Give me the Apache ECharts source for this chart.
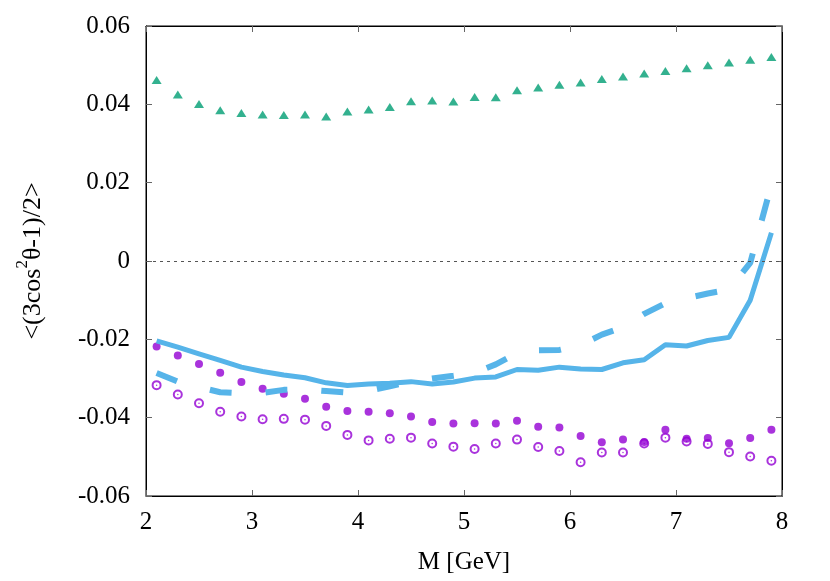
<!DOCTYPE html>
<html>
<head>
<meta charset="utf-8">
<script src="https://cdn.jsdelivr.net/npm/echarts@6/dist/echarts.min.js"></script>
<style>
  html, body { margin: 0; padding: 0; background: #fff; }
  #chart { width: 830px; height: 581px; }
</style>
</head>
<body>
<div id="chart"></div>
<script>
// mass bins (GeV)
var masses = [2.1, 2.3, 2.5, 2.7, 2.9, 3.1, 3.3, 3.5, 3.7, 3.9, 4.1, 4.3, 4.5, 4.7, 4.9,
              5.1, 5.3, 5.5, 5.7, 5.9, 6.1, 6.3, 6.5, 6.7, 6.9, 7.1, 7.3, 7.5, 7.7, 7.9];

// green triangles
var triangles = [0.0462, 0.0425, 0.0401, 0.0385, 0.0378, 0.0374, 0.0373, 0.0374, 0.0369, 0.0382,
                 0.0387, 0.0393, 0.0408, 0.0410, 0.0407, 0.0419, 0.0418, 0.0436, 0.0443, 0.0450,
                 0.0456, 0.0465, 0.0471, 0.0479, 0.0485, 0.0492, 0.0500, 0.0507, 0.0514, 0.0521];

// purple filled dots
var filledDots = [-0.0218, -0.0241, -0.0263, -0.0285, -0.0309, -0.0326, -0.0339, -0.0352, -0.0372, -0.0383,
                  -0.0385, -0.0389, -0.0397, -0.0411, -0.0415, -0.0414, -0.0415, -0.0408, -0.0423, -0.0425,
                  -0.0447, -0.0463, -0.0456, -0.0462, -0.0431, -0.0454, -0.0452, -0.0465, -0.0452, -0.0431];

// purple open circles
var openDots = [-0.0317, -0.0341, -0.0363, -0.0385, -0.0397, -0.0404, -0.0403, -0.0405, -0.0421, -0.0444,
                -0.0458, -0.0454, -0.0451, -0.0466, -0.0474, -0.0480, -0.0466, -0.0456, -0.0475, -0.0485,
                -0.0514, -0.0489, -0.0489, -0.0466, -0.0451, -0.0461, -0.0467, -0.0488, -0.0499, -0.0510];

// blue solid curve
var solidCurve = [-0.0204, -0.0220, -0.0237, -0.0254, -0.0271, -0.0282, -0.0291, -0.0298, -0.0311, -0.0318,
                  -0.0314, -0.0312, -0.0308, -0.0314, -0.0309, -0.0299, -0.0296, -0.0277, -0.0279, -0.0271,
                  -0.0276, -0.0277, -0.0260, -0.0252, -0.0214, -0.0217, -0.0203, -0.0195, -0.0100, 0.0072];

// blue dashed curve
var dashedCurve = [-0.0286, -0.0308, -0.0322, -0.0335, -0.0338, -0.0337, -0.0329, -0.0328, -0.0332, -0.0336,
                   -0.0331, -0.0320, -0.0308, -0.0300, -0.0293, -0.0285, -0.0264, -0.0235, -0.0228, -0.0227,
                   -0.0215, -0.0188, -0.0169, -0.0135, -0.0108, -0.0095, -0.0083, -0.0073, -0.0005, 0.0195];

var FONT = '"Liberation Serif", "DejaVu Serif", serif';
var BLUE = '#56B4E9';
var PURPLE = '#9400D3';
var GREEN = '#009E73';

function pairs(ys) {
    var out = [];
    for (var i = 0; i < masses.length; i++) {
        out.push([masses[i], ys[i]]);
    }
    return out;
}

function yLabel(v) {
    if (Math.abs(v) < 1e-9) return '0';
    return v.toFixed(2);
}

var chart = echarts.init(document.getElementById('chart'));
var option = {
    animation: false,
    backgroundColor: '#fff',
    grid: {
        left: 146,
        right: 48,
        top: 26,
        bottom: 85,
        show: true,
        borderColor: '#000',
        borderWidth: 1
    },
    xAxis: [{
        type: 'value',
        min: 2,
        max: 8,
        interval: 1,
        name: 'M [GeV]',
        nameLocation: 'middle',
        nameGap: 54,
        nameTextStyle: { fontFamily: FONT, fontSize: 25, color: '#000' },
        axisLine: { show: true, onZero: false, lineStyle: { color: '#000', width: 1 } },
        axisTick: { show: true, inside: true, length: 6, lineStyle: { color: '#666' } },
        axisLabel: { fontFamily: FONT, fontSize: 25, color: '#000', margin: 14 },
        splitLine: { show: false }
    }, {
        type: 'value',
        position: 'top',
        min: 2,
        max: 8,
        interval: 1,
        axisLine: { show: true, onZero: false, lineStyle: { color: '#000', width: 1 } },
        axisTick: { show: true, inside: true, length: 6, lineStyle: { color: '#666' } },
        axisLabel: { show: false },
        splitLine: { show: false }
    }],
    yAxis: [{
        type: 'value',
        min: -0.06,
        max: 0.06,
        interval: 0.02,
        name: '{n|<(3cos}{sup|2}{n|θ-1)/2>}',
        nameLocation: 'middle',
        nameGap: 100,
        nameTextStyle: {
            fontFamily: FONT,
            color: '#000',
            rich: {
                n: { fontFamily: FONT, fontSize: 26, color: '#000', lineHeight: 32, verticalAlign: 'bottom' },
                sup: { fontFamily: FONT, fontSize: 17, color: '#000', lineHeight: 32, verticalAlign: 'top' }
            }
        },
        axisLine: { show: true, onZero: false, lineStyle: { color: '#000', width: 1 } },
        axisTick: { show: true, inside: true, length: 6, lineStyle: { color: '#666' } },
        axisLabel: { fontFamily: FONT, fontSize: 25, color: '#000', margin: 16, formatter: yLabel },
        splitLine: { show: false }
    }, {
        type: 'value',
        position: 'right',
        min: -0.06,
        max: 0.06,
        interval: 0.02,
        axisLine: { show: true, onZero: false, lineStyle: { color: '#000', width: 1 } },
        axisTick: { show: true, inside: true, length: 6, lineStyle: { color: '#666' } },
        axisLabel: { show: false },
        splitLine: { show: false }
    }],
    series: [
        {
            name: 'zero',
            type: 'line',
            data: [],
            markLine: {
                silent: true,
                symbol: 'none',
                label: { show: false },
                lineStyle: { color: '#555', width: 1, type: [3, 4] },
                data: [{ yAxis: 0 }]
            }
        },
        {
            name: 'triangles',
            type: 'scatter',
            symbol: 'triangle',
            symbolSize: [10, 8],
            itemStyle: { color: GREEN },
            data: pairs(triangles)
        },
        {
            name: 'open',
            type: 'scatter',
            symbol: 'emptyCircle',
            symbolSize: 8,
            itemStyle: { color: PURPLE, borderColor: PURPLE, borderWidth: 1 },
            data: pairs(openDots)
        },
        {
            name: 'open-centre',
            type: 'scatter',
            symbol: 'circle',
            symbolSize: 1.5,
            itemStyle: { color: PURPLE },
            data: pairs(openDots)
        },
        {
            name: 'solid',
            type: 'line',
            showSymbol: false,
            lineStyle: { color: BLUE, width: 5 },
            data: pairs(solidCurve)
        },
        {
            name: 'dashed',
            type: 'line',
            showSymbol: false,
            lineStyle: { color: BLUE, width: 6, type: [22, 34], cap: 'butt' },
            data: pairs(dashedCurve)
        },
        {
            name: 'filled',
            type: 'scatter',
            symbol: 'circle',
            symbolSize: 8,
            itemStyle: { color: PURPLE },
            data: pairs(filledDots)
        }
    ]
};
chart.setOption(option);
</script>
</body>
</html>
